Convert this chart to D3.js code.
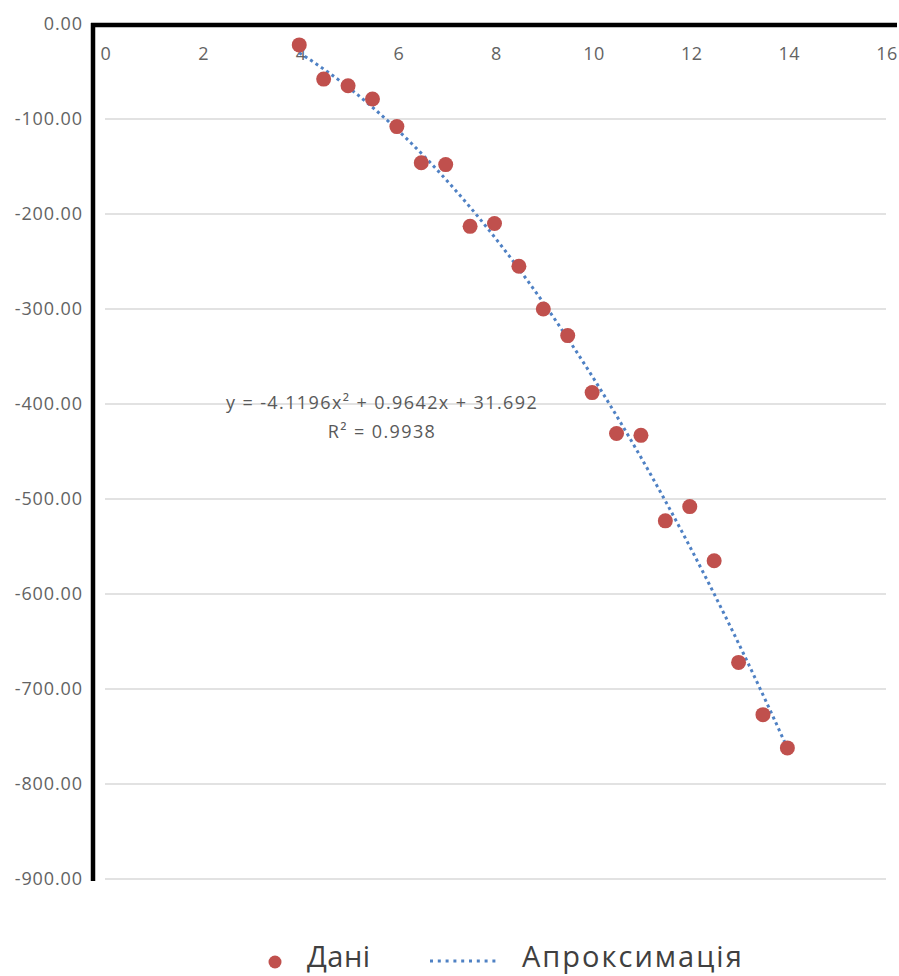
<!DOCTYPE html>
<html><head><meta charset="utf-8">
<script src="https://cdn.jsdelivr.net/npm/d3@7"></script>
<style>body{margin:0;background:#fff}svg{display:block}</style>
</head><body>
<svg id="chart" width="899" height="976"></svg>
<script>
const xValues = [4,4.5,5,5.5,6,6.5,7,7.5,8,8.5,9,9.5,10,10.5,11,11.5,12,12.5,13,13.5,14];
const yValues = [-22,-58,-65,-79,-108,-146,-148,-213,-210,-255,-300,-328,-388,-431,-433,-523,-508,-565,-672,-727,-762];
const trendCoef = [-4.1196, 0.9642, 31.692]; // a, b, c
const xTicks = [0,2,4,6,8,10,12,14,16];
const yTicks = [0,-100,-200,-300,-400,-500,-600,-700,-800,-900];
const seriesNames = ["Дані", "Апроксимація"];
const eqLines = ["y = -4.1196x² + 0.9642x + 31.692", "R² = 0.9938"];

const svg = d3.select("#chart");
const x = d3.scaleLinear().domain([0,16]).range([104,885]);
const y = d3.scaleLinear().domain([0,-900]).range([24,879]);
const font = "'Open Sans', 'Noto Sans', sans-serif";
const fmt = d => d3.format(".2f")(d).replace("\u2212","-");

// gridlines
svg.append("g").selectAll("line").data(yTicks.slice(1)).join("line")
  .attr("x1",105).attr("x2",886)
  .attr("y1",d=>y(d)).attr("y2",d=>y(d))
  .attr("stroke","#d9d9d9").attr("stroke-width",1.3);

// y tick labels
svg.append("g").selectAll("text").data(yTicks).join("text")
  .attr("x",83).attr("y",d=>y(d)).attr("dy","0.36em")
  .attr("text-anchor","end").attr("font-family",font).attr("font-size",18)
  .attr("fill","#636363").attr("letter-spacing","0.9px")
  .text(fmt);

// x tick labels
svg.append("g").selectAll("text").data(xTicks).join("text")
  .attr("x",d=>x(d)+2).attr("y",54).attr("dy","0.36em")
  .attr("text-anchor","middle").attr("font-family",font).attr("font-size",18)
  .attr("fill","#636363").attr("letter-spacing","0.5px")
  .text(d=>d);

// axes lines
svg.append("line").attr("x1",93).attr("x2",93).attr("y1",23).attr("y2",881)
  .attr("stroke","#000").attr("stroke-width",4.5);
svg.append("line").attr("x1",91).attr("x2",897).attr("y1",25).attr("y2",25)
  .attr("stroke","#000").attr("stroke-width",4.5);

// trendline
const f = t => trendCoef[0]*t*t + trendCoef[1]*t + trendCoef[2];
const tPts = d3.range(0,101).map(i => xValues[0] + i*(xValues[xValues.length-1]-xValues[0])/100);
svg.append("path")
  .attr("d", d3.line().x(t=>x(t)).y(t=>y(f(t)))(tPts))
  .attr("fill","none").attr("stroke","#4f81c4").attr("stroke-width",3)
  .attr("stroke-dasharray","3,3.5");

// points
svg.append("g").selectAll("circle").data(xValues).join("circle")
  .attr("cx",d=>x(d)).attr("cy",(d,i)=>y(yValues[i])).attr("r",7.5)
  .attr("fill","#c0504d");

// equation
svg.append("g").selectAll("text").data(eqLines).join("text")
  .attr("x",382).attr("y",(d,i)=>403+i*29).attr("dy","0.36em")
  .attr("text-anchor","middle").attr("font-family",font).attr("font-size",18)
  .attr("fill","#595959").attr("letter-spacing","1.4px").text(d=>d);

// legend
svg.append("circle").attr("cx",275).attr("cy",962).attr("r",6.5).attr("fill","#c0504d");
svg.append("text").attr("x",307).attr("y",967)
  .attr("font-family",font).attr("font-size",29).attr("fill","#404040")
  .attr("letter-spacing","0.5px").text(seriesNames[0]);
svg.append("line").attr("x1",430).attr("x2",500).attr("y1",961).attr("y2",961)
  .attr("stroke","#4f81c4").attr("stroke-width",3).attr("stroke-dasharray","3,4.8");
svg.append("text").attr("x",522).attr("y",967)
  .attr("font-family",font).attr("font-size",29).attr("fill","#404040")
  .attr("letter-spacing","2px").text(seriesNames[1]);
</script>
</body></html>
